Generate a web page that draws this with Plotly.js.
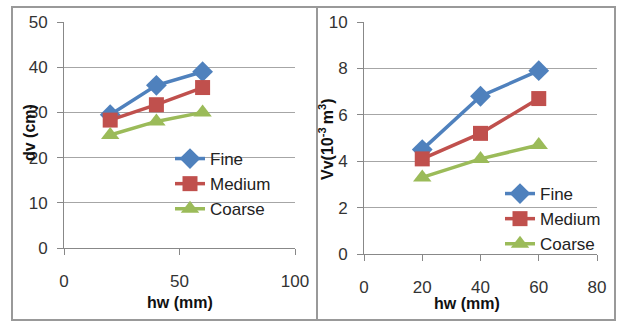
<!DOCTYPE html>
<html>
<head>
<meta charset="utf-8">
<script src="https://cdn.plot.ly/plotly-3.0.1.min.js"></script>
<style>html,body{margin:0;padding:0;background:#fff;}#chart{width:620px;height:323px;}</style>
</head>
<body>
<div id="chart"></div>
<script>
// ---- data ----
const hw = [20, 40, 60];
const seriesNames = ["Fine", "Medium", "Coarse"];
const dvFine = [29.5, 36, 39];
const dvMedium = [28.3, 31.7, 35.5];
const dvCoarse = [25, 28, 30];
const vvFine = [4.5, 6.8, 7.9];
const vvMedium = [4.1, 5.2, 6.7];
const vvCoarse = [3.3, 4.1, 4.7];
const leftXTicks = [0, 50, 100];
const leftYTicks = [0, 10, 20, 30, 40, 50];
const rightXTicks = [0, 20, 40, 60, 80];
const rightYTicks = [0, 2, 4, 6, 8, 10];

// ---- styles ----
const colors = ["#4F81BD", "#C0504D", "#9BBB59"];
const symbols = ["diamond", "square", "triangle-up"];
const msizes = [16, 15, 16];
const W = 620, H = 323;
const FONT = "'Liberation Sans', Arial, sans-serif";
const px = v => v / W;
const py = v => (H - v) / H;

const leftData = [dvFine, dvMedium, dvCoarse];
const rightData = [vvFine, vvMedium, vvCoarse];
const traces = [];
leftData.forEach((ys, i) => traces.push({
  x: hw, y: ys, name: seriesNames[i], type: "scatter", mode: "lines+markers",
  xaxis: "x", yaxis: "y", legend: "legend",
  line: {color: colors[i], width: 3.5},
  marker: {color: colors[i], symbol: symbols[i], size: msizes[i]}
}));
rightData.forEach((ys, i) => traces.push({
  x: hw, y: ys, name: seriesNames[i], type: "scatter", mode: "lines+markers",
  xaxis: "x2", yaxis: "y2", legend: "legend2",
  line: {color: colors[i], width: 3.5},
  marker: {color: colors[i], symbol: symbols[i], size: msizes[i]}
}));

const tickFont = {family: FONT, size: 17, color: "#333"};
function xax(domain, range, ticks, anchor) {
  return {domain, range, tickvals: ticks, ticktext: ticks.map(String), anchor,
    showgrid: false, zeroline: false, showline: true, linecolor: "#888", linewidth: 1,
    ticks: "outside", ticklen: 6, tickcolor: "#888", tickfont: tickFont,
    ticklabelstandoff: 12, fixedrange: true};
}
function yax(domain, range, ticks, anchor) {
  return {domain, range, tickvals: ticks, ticktext: ticks.map(String), anchor,
    showgrid: true, gridcolor: "#A6A6A6", gridwidth: 1, zeroline: false,
    showline: true, linecolor: "#888", linewidth: 1,
    ticks: "outside", ticklen: 6, tickcolor: "#888", tickfont: tickFont,
    ticklabelstandoff: 6, fixedrange: true};
}

const legendStyle = (x, y) => ({
  x: px(x), y: py(y), xanchor: "left", yanchor: "top",
  bgcolor: "rgba(0,0,0,0)", borderwidth: 0,
  font: {family: FONT, size: 17, color: "#222"},
  itemwidth: 30, tracegroupgap: 0
});

const titleFont = {family: FONT, size: 16, color: "#111", weight: "bold"};
const ann = (text, x, y, angle) => ({
  text, x: px(x), y: py(y), xref: "paper", yref: "paper",
  xanchor: "center", yanchor: "middle", textangle: angle || 0,
  showarrow: false, font: titleFont
});

const layout = {
  width: W, height: H,
  margin: {l: 0, r: 0, t: 0, b: 0},
  paper_bgcolor: "#fff", plot_bgcolor: "#fff",
  showlegend: true,
  xaxis: xax([px(64), px(295)], [0, 100], leftXTicks, "y"),
  yaxis: yax([py(248), py(22)], [0, 50], leftYTicks, "x"),
  xaxis2: xax([px(364), px(597)], [0, 80], rightXTicks, "y2"),
  yaxis2: yax([py(254), py(22)], [0, 10], rightYTicks, "x2"),
  legend: legendStyle(170, 141),
  legend2: legendStyle(500, 176),
  annotations: [
    ann("dv (cm)", 29, 133, -90),
    ann("hw (mm)", 180, 302),
    ann("Vv(10<sup>-3 </sup>m<sup>3</sup>)", 326, 139, -90),
    ann("hw (mm)", 467, 303)
  ],
  shapes: [
    {type: "rect", xref: "paper", yref: "paper", x0: px(12), x1: px(615), y0: py(320), y1: py(7),
     line: {color: "#999", width: 2}},
    {type: "line", xref: "paper", yref: "paper", x0: px(317), x1: px(317), y0: py(320), y1: py(7),
     line: {color: "#999", width: 2}}
  ]
};

Plotly.newPlot("chart", traces, layout, {displayModeBar: false, staticPlot: true});
</script>
</body>
</html>
